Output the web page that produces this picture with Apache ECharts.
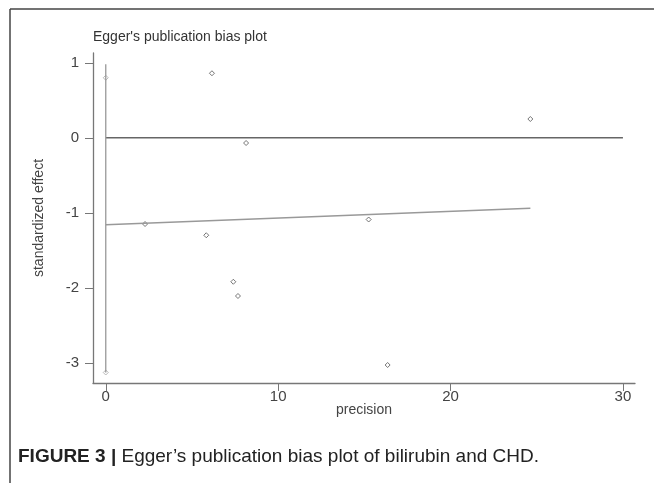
<!DOCTYPE html>
<html>
<head>
<meta charset="utf-8">
<script src="https://cdn.jsdelivr.net/npm/echarts@6/dist/echarts.min.js"></script>
<style>
html,body{margin:0;padding:0;background:#fff;}
#chart{width:654px;height:483px;}
</style>
</head>
<body>
<div id="chart"></div>
<script>
// Study points: precision vs standardized effect
const precision = [6.16, 8.14, 2.28, 5.83, 7.40, 7.67, 15.25, 24.63, 16.35];
const stdEffect = [0.86, -0.07, -1.15, -1.30, -1.92, -2.11, -1.09, 0.25, -3.03];
// Intercept confidence interval at precision 0
const ciX = [0, 0];
const ciY = [0.98, -3.13];
const ciMarkX = [0, 0];
const ciMarkY = [0.80, -3.13];
// Egger regression line
const regX = [0, 24.63];
const regY = [-1.16, -0.94];
// Zero reference line
const zeroX = [0, 30];
const zeroY = [0, 0];
// Tick labels
const xTicks = [0, 10, 20, 30];
const yTicks = [-3, -2, -1, 0, 1];

const pairs = (xs, ys) => xs.map((x, i) => [x, ys[i]]);
const FONT = 'Liberation Sans, Arial, sans-serif';

const chart = echarts.init(document.getElementById('chart'), null, {renderer: 'canvas'});
chart.setOption({
  animation: false,
  backgroundColor: '#fff',
  title: {
    text: "Egger's publication bias plot",
    left: 88, top: 25,
    textStyle: {fontFamily: FONT, fontSize: 14, fontWeight: 'normal', color: '#333'}
  },
  grid: {left: 93, top: 53, right: 19, bottom: 100, containLabel: false},
  xAxis: {
    type: 'value', min: -0.74, max: 30.7,
    name: 'precision', nameLocation: 'middle', nameGap: 20, nameMoveOverlap: false,
    nameTextStyle: {fontFamily: FONT, fontSize: 14, color: '#444'},
    axisLine: {show: true, onZero: false, lineStyle: {color: '#777', width: 1.3}},
    axisTick: {show: true, length: 8, customValues: xTicks, lineStyle: {color: '#777'}},
    axisLabel: {customValues: xTicks, fontFamily: FONT, fontSize: 15, color: '#444', margin: 6},
    splitLine: {show: false}
  },
  yAxis: {
    type: 'value', min: -3.27, max: 1.13,
    name: 'standardized effect', nameLocation: 'middle', nameGap: 47,
    nameTextStyle: {fontFamily: FONT, fontSize: 14, color: '#444'},
    axisLine: {show: true, onZero: false, lineStyle: {color: '#777', width: 1.3}},
    axisTick: {show: true, length: 8, customValues: yTicks, lineStyle: {color: '#777'}},
    axisLabel: {customValues: yTicks, fontFamily: FONT, fontSize: 15, color: '#444', margin: 14},
    splitLine: {show: false}
  },
  series: [
    {
      type: 'line', data: pairs(zeroX, zeroY), symbol: 'none',
      lineStyle: {color: '#666', width: 1.5}
    },
    {
      type: 'line', data: pairs(regX, regY), symbol: 'none',
      lineStyle: {color: '#999', width: 1.3}
    },
    {
      type: 'line', data: pairs(ciX, ciY), symbol: 'none',
      lineStyle: {color: '#999', width: 1.3}
    },
    {
      type: 'scatter', data: pairs(ciMarkX, ciMarkY), symbol: 'diamond', symbolSize: 5,
      itemStyle: {color: '#fff', borderColor: '#aaa', borderWidth: 1}
    },
    {
      type: 'scatter', data: pairs(precision, stdEffect), symbol: 'diamond', symbolSize: 5,
      itemStyle: {color: '#fff', borderColor: '#555', borderWidth: 1}
    }
  ],
  graphic: [
    {type: 'line', shape: {x1: 10, y1: 9, x2: 654, y2: 9}, style: {stroke: '#444', lineWidth: 1.5}},
    {type: 'line', shape: {x1: 10, y1: 9, x2: 10, y2: 483}, style: {stroke: '#444', lineWidth: 1.5}},
    {
      type: 'text', left: 18, top: 447,
      style: {
        text: '{b|FIGURE 3 |} Egger\u2019s publication bias plot of bilirubin and CHD.',
        rich: {
          b: {fontFamily: FONT, fontSize: 19, fontWeight: 'bold', fill: '#222'}
        },
        fontFamily: FONT,
        fontSize: 19, fill: '#222'
      }
    }
  ]
});
</script>
</body>
</html>
